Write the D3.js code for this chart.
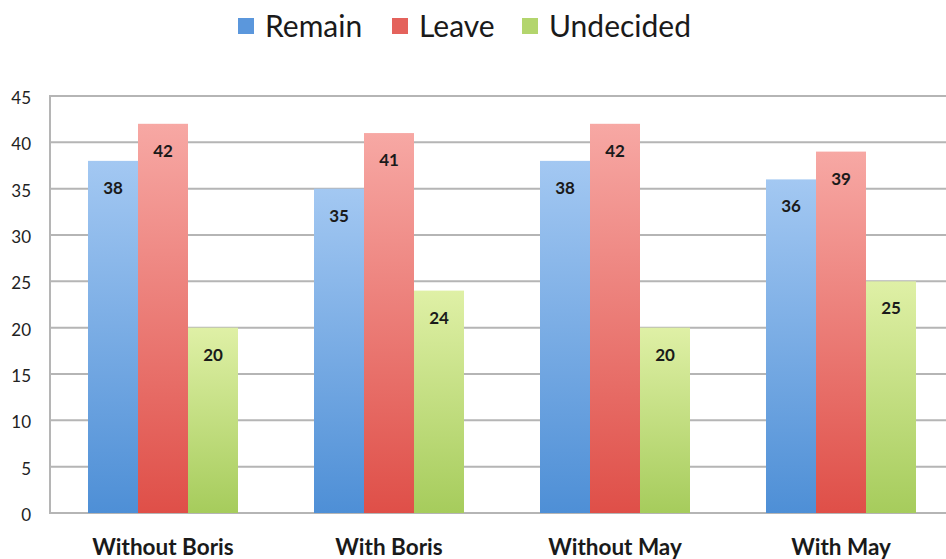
<!DOCTYPE html>
<html>
<head>
<meta charset="utf-8">
<script src="https://cdn.jsdelivr.net/npm/d3@7"></script>
<style>
  body { margin: 0; background: #fff; }
  svg { display: block; }
</style>
</head>
<body>
<svg width="946" height="559"></svg>
<script>
var categories = ['Without Boris', 'With Boris', 'Without May', 'With May'];
var seriesNames = ['Remain', 'Leave', 'Undecided'];
var remain = [38, 35, 38, 36];
var leave = [42, 41, 42, 39];
var undecided = [20, 24, 20, 25];
var yTicks = [0, 5, 10, 15, 20, 25, 30, 35, 40, 45];

var seriesValues = [remain, leave, undecided];
var gradients = [
  ['#a3c8f2', '#4e8fd6'],
  ['#f7a8a4', '#df4f48'],
  ['#dff0a6', '#a6cc5c']
];
var legendColors = ['#5b97dc', '#e4625c', '#b3d56d'];

var width = 946;
var height = 559;
var plotLeft = 50, plotRight = 954, plotTop = 96, plotBottom = 513;

var svg = d3.select('svg');

var defs = svg.append('defs');
gradients.forEach(function(g, i) {
  var lg = defs.append('linearGradient')
    .attr('id', 'grad' + i)
    .attr('x1', 0).attr('y1', 0).attr('x2', 0).attr('y2', 1);
  lg.append('stop').attr('offset', '0%').attr('stop-color', g[0]);
  lg.append('stop').attr('offset', '100%').attr('stop-color', g[1]);
});

var x0 = d3.scaleBand()
  .domain(categories)
  .range([plotLeft, plotRight])
  .paddingInner(76 / 226)
  .paddingOuter(38 / 226);

var x1 = d3.scaleBand()
  .domain(seriesNames)
  .range([0, x0.bandwidth()]);

var y = d3.scaleLinear()
  .domain([0, 45])
  .range([plotBottom, plotTop]);

// grid
svg.append('g')
  .selectAll('line')
  .data(yTicks)
  .enter()
  .append('line')
  .attr('x1', plotLeft)
  .attr('x2', width)
  .attr('y1', d => y(d))
  .attr('y2', d => y(d))
  .attr('stroke', '#b5b5b5')
  .attr('stroke-width', 2);

svg.append('line')
  .attr('x1', plotLeft).attr('x2', plotLeft)
  .attr('y1', plotTop - 1).attr('y2', plotBottom + 1)
  .attr('stroke', '#b5b5b5')
  .attr('stroke-width', 2);

// y labels
svg.append('g')
  .selectAll('text')
  .data(yTicks)
  .enter()
  .append('text')
  .attr('x', 31)
  .attr('y', d => y(d) + 2)
  .attr('dy', '0.35em')
  .attr('text-anchor', 'end')
  .attr('font-family', 'Lato, sans-serif')
  .attr('font-size', 17)
  .attr('fill', '#222')
  .text(d => d);

// bars
var groups = svg.append('g')
  .selectAll('g')
  .data(categories)
  .enter()
  .append('g')
  .attr('transform', d => 'translate(' + x0(d) + ',0)');

function rowData(d, ci) {
  return seriesNames.map((s, si) => ({ s: s, si: si, v: seriesValues[si][ci] }));
}

groups.selectAll('rect')
  .data(rowData)
  .enter()
  .append('rect')
  .attr('x', d => x1(d.s))
  .attr('y', d => y(d.v))
  .attr('width', x1.bandwidth())
  .attr('height', d => plotBottom - y(d.v))
  .attr('fill', d => 'url(#grad' + d.si + ')');

groups.selectAll('text')
  .data(rowData)
  .enter()
  .append('text')
  .attr('x', d => x1(d.s) + x1.bandwidth() / 2)
  .attr('y', d => y(d.v) + 27)
  .attr('dy', '0.35em')
  .attr('text-anchor', 'middle')
  .attr('font-family', 'Lato, sans-serif')
  .attr('font-weight', 'bold')
  .attr('font-size', 17)
  .attr('fill', '#1a1a1a')
  .text(d => d.v);

// category labels
svg.append('g')
  .selectAll('text')
  .data(categories)
  .enter()
  .append('text')
  .attr('x', d => x0(d) + x0.bandwidth() / 2)
  .attr('y', 547)
  .attr('dy', '0.35em')
  .attr('text-anchor', 'middle')
  .attr('font-family', 'Lato, sans-serif')
  .attr('font-weight', 'bold')
  .attr('font-size', 22.5)
  .attr('fill', '#1a1a1a')
  .text(d => d);

// legend
var legendX = [238, 392, 522];
var legend = svg.append('g')
  .selectAll('g')
  .data(seriesNames)
  .enter()
  .append('g')
  .attr('transform', (d, i) => 'translate(' + legendX[i] + ',0)');

legend.append('rect')
  .attr('x', 0)
  .attr('y', 18)
  .attr('width', 16)
  .attr('height', 16)
  .attr('fill', (d, i) => legendColors[i]);

legend.append('text')
  .attr('x', 27)
  .attr('y', 26)
  .attr('dy', '0.35em')
  .attr('font-family', 'Lato, sans-serif')
  .attr('font-size', 30)
  .attr('fill', '#1a1a1a')
  .text(d => d);
</script>
</body>
</html>
